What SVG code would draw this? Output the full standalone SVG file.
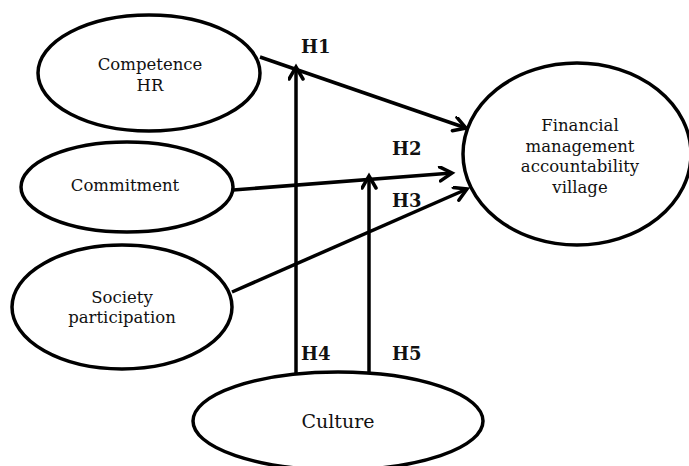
<svg xmlns="http://www.w3.org/2000/svg" width="689" height="466" viewBox="0 0 689 466">
<defs>
<marker id="arr" markerUnits="userSpaceOnUse" markerWidth="20" markerHeight="20" refX="14" refY="8" orient="auto">
<path d="M2,1 L14,8 L2,15" fill="none" stroke="#000" stroke-width="3.5" stroke-linecap="round" stroke-linejoin="miter"/>
</marker>
</defs>
<style>
.node ellipse{fill:#fff;stroke:#000;stroke-width:3.5}
.lbl{font-family:"DejaVu Serif",serif;font-size:16.5px;fill:#111;text-anchor:middle}
.h{font-family:"DejaVu Serif",serif;font-size:18px;font-weight:bold;fill:#111}
#connectors line{stroke:#000;stroke-width:3.5;fill:none}
</style>
<rect width="689" height="466" fill="#fff"/>
<g id="connectors">
<line x1="260" y1="57" x2="466" y2="128" marker-end="url(#arr)"/>
<line x1="233" y1="190" x2="452" y2="173" marker-end="url(#arr)"/>
<line x1="232" y1="292" x2="467" y2="189" marker-end="url(#arr)"/>
<line x1="296" y1="373" x2="296" y2="67" marker-end="url(#arr)"/>
<line x1="369" y1="373" x2="369" y2="176" marker-end="url(#arr)"/>
</g>
<g id="competence">
<g class="node"><ellipse cx="149" cy="73" rx="111" ry="58"/></g>
<text class="lbl" x="150" y="70">Competence</text>
<text class="lbl" x="150" y="91">HR</text>
</g>
<g id="commitment">
<g class="node"><ellipse cx="127" cy="187" rx="106" ry="45"/></g>
<text class="lbl" x="125" y="191">Commitment</text>
</g>
<g id="society">
<g class="node"><ellipse cx="122" cy="307" rx="110" ry="62"/></g>
<text class="lbl" x="122" y="303">Society</text>
<text class="lbl" x="122" y="323">participation</text>
</g>
<g id="financial">
<g class="node"><ellipse cx="577" cy="154" rx="114" ry="91"/></g>
<text class="lbl" x="580" y="131">Financial</text>
<text class="lbl" x="580" y="152">management</text>
<text class="lbl" x="580" y="172">accountability</text>
<text class="lbl" x="580" y="193">village</text>
</g>
<g id="culture">
<g class="node"><ellipse cx="338" cy="421" rx="145" ry="49"/></g>
<text class="lbl" x="338" y="428" style="font-size:19px">Culture</text>
</g>
<g id="labels">
<text class="h" x="301" y="53">H1</text>
<text class="h" x="392" y="155">H2</text>
<text class="h" x="392" y="207">H3</text>
<text class="h" x="301" y="360">H4</text>
<text class="h" x="392" y="360">H5</text>
</g>
</svg>
